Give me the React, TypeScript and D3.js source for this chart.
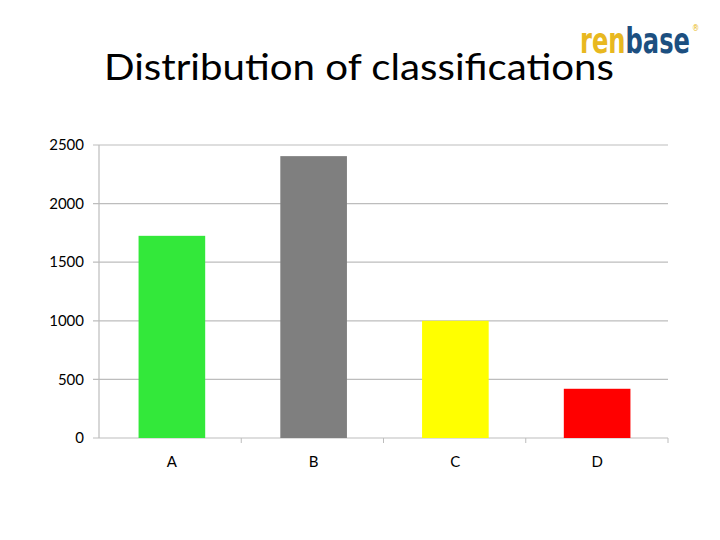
import React from "react";
import * as d3 from "d3";

const categories = ["A", "B", "C", "D"];
const values = [1725, 2405, 1000, 420];
const barColors = ["#33e83a", "#7f7f7f", "#ffff00", "#ff0000"];
const yTicks = [0, 500, 1000, 1500, 2000, 2500];
const titleText = "Distribution of classifications";

export default function App() {
  const W = 720, H = 540;
  const left = 99, right = 668, top = 145, bottom = 438;
  const x = d3.scaleBand<string>().domain(categories).range([left + 2, right]).paddingInner(0.53).paddingOuter(0.265);
  const band = d3.scaleBand<string>().domain(categories).range([left, right]);
  const y = d3.scaleLinear().domain([0, 2500]).range([bottom, top]);
  const font = "Lato, 'Open Sans', sans-serif";
  const logoFont = "'DejaVu Sans Condensed', 'DejaVu Sans', sans-serif";
  return (
    <svg width={W} height={H} style={{ position: "absolute", left: 0, top: 0, background: "#fff" }}>
      <rect width={W} height={H} fill="#fff" />
      <text x={104} y={80} fontFamily={font} fontSize={36} fill="#000" textLength={510} lengthAdjust="spacingAndGlyphs">{titleText}</text>
      <text x={580} y={53} fontFamily={logoFont} fontWeight="bold" fontSize={35} textLength={110} lengthAdjust="spacingAndGlyphs">
        <tspan fill="#e8b820">ren</tspan>
        <tspan fill="#1c4f80">base</tspan>
      </text>
      <text x={692} y={31} fontFamily={logoFont} fontSize={8} fill="#e8b820">®</text>
      {yTicks.map((t) => (
        <g key={t}>
          <line x1={93} x2={right} y1={y(t)} y2={y(t)} stroke="#bdbdbd" strokeWidth={1.2} />
          <text x={84} y={y(t)} dy="0.35em" textAnchor="end" fontFamily={font} fontSize={15} fill="#000">{t}</text>
        </g>
      ))}
      <line x1={left} x2={left} y1={top} y2={bottom} stroke="#bdbdbd" strokeWidth={1.2} />
      {categories.map((c) => (
        <line key={"t" + c} x1={(band(c) as number) + band.bandwidth()} x2={(band(c) as number) + band.bandwidth()} y1={bottom} y2={bottom + 5} stroke="#bdbdbd" strokeWidth={1} />
      ))}
      {categories.map((c, i) => (
        <rect key={c} x={x(c)} y={y(values[i])} width={x.bandwidth()} height={bottom - y(values[i])} fill={barColors[i]} />
      ))}
      {categories.map((c) => (
        <text key={"l" + c} x={(x(c) as number) + x.bandwidth() / 2} y={462} dy="0.35em" textAnchor="middle" fontFamily={font} fontSize={15} fill="#000">{c}</text>
      ))}
    </svg>
  );
}
